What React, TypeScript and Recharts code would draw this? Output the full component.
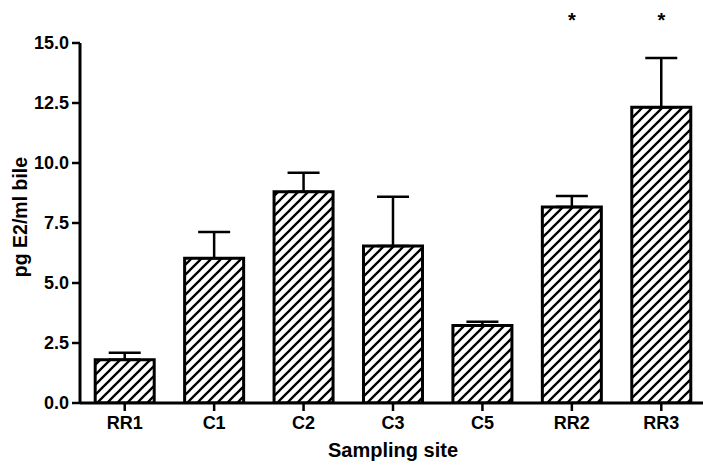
import React from 'react';
import { BarChart, Bar, XAxis, YAxis, ErrorBar, ReferenceDot, Label } from 'recharts';

const sites = ['RR1', 'C1', 'C2', 'C3', 'C5', 'RR2', 'RR3'];
const means = [1.8, 6.03, 8.8, 6.54, 3.23, 8.17, 12.32];
const sems = [0.29, 1.09, 0.79, 2.05, 0.16, 0.46, 2.05];
const significantSites = ['RR2', 'RR3'];
const starLevel = 15.65;
const yTicks = [0, 2.5, 5, 7.5, 10, 12.5, 15];

const data = sites.map((site, i) => ({ site, mean: means[i], err: [0, sems[i]] }));

const FONT = '"Liberation Sans", Arial, Helvetica, sans-serif';

const Star = (props: any) => (
  <text
    x={props.cx}
    y={props.cy}
    textAnchor="middle"
    fontFamily={FONT}
    fontWeight="bold"
    fontSize={20}
    fill="#000"
  >
    *
  </text>
);

export default function App() {
  return (
    <div style={{ position: 'absolute', left: 0, top: 0, width: 703, height: 466, background: '#fff' }}>
      <BarChart
        width={703}
        height={466}
        data={data}
        margin={{ top: 43, right: -3, bottom: 0, left: 0 }}
        barCategoryGap="17%"
      >
        <defs>
          <pattern id="hatch" patternUnits="userSpaceOnUse" width={10} height={10}>
            <rect width={10} height={10} fill="#fff" />
            <path d="M-1,1 l2,-2 M0,10 l10,-10 M9,11 l2,-2" stroke="#000" strokeWidth={2.3} />
          </pattern>
        </defs>
        <XAxis
          dataKey="site"
          height={63}
          axisLine={{ stroke: '#000', strokeWidth: 3 }}
          tickLine={{ stroke: '#000', strokeWidth: 2.5 }}
          tickSize={8}
          tickMargin={5}
          tick={{ fill: '#000', fontSize: 18, fontWeight: 'bold', fontFamily: FONT }}
        >
          <Label
            value="Sampling site"
            position="insideBottom"
            offset={9}
            style={{ fill: '#000', fontSize: 20, fontWeight: 'bold', fontFamily: FONT }}
          />
        </XAxis>
        <YAxis
          width={80}
          domain={[0, 15]}
          ticks={yTicks}
          interval={0}
          allowDataOverflow
          tickFormatter={(v: number) => v.toFixed(1)}
          axisLine={{ stroke: '#000', strokeWidth: 3 }}
          tickLine={{ stroke: '#000', strokeWidth: 2.5 }}
          tickSize={8}
          tickMargin={3}
          tick={{ fill: '#000', fontSize: 18, fontWeight: 'bold', fontFamily: FONT }}
        >
          <Label
            content={(p: any) => {
              const vb = p.viewBox || { x: 0, y: 43, height: 360 };
              const cx = vb.x + 27;
              const cy = vb.y + vb.height / 2 - 6;
              return (
                <text
                  x={cx}
                  y={cy}
                  transform={`rotate(-90, ${cx}, ${cy})`}
                  textAnchor="middle"
                  fontFamily={FONT}
                  fontWeight="bold"
                  fontSize={19.5}
                  fill="#000"
                >
                  pg E2/ml bile
                </text>
              );
            }}
          />
        </YAxis>
        <Bar dataKey="mean" fill="url(#hatch)" stroke="#000" strokeWidth={3} isAnimationActive={false}>
          <ErrorBar dataKey="err" direction="y" width={16} stroke="#000" strokeWidth={2.5} isAnimationActive={false} />
        </Bar>
        {significantSites.map((s) => (
          <ReferenceDot key={s} x={s} y={starLevel} r={0} ifOverflow="visible" shape={Star} />
        ))}
      </BarChart>
    </div>
  );
}
